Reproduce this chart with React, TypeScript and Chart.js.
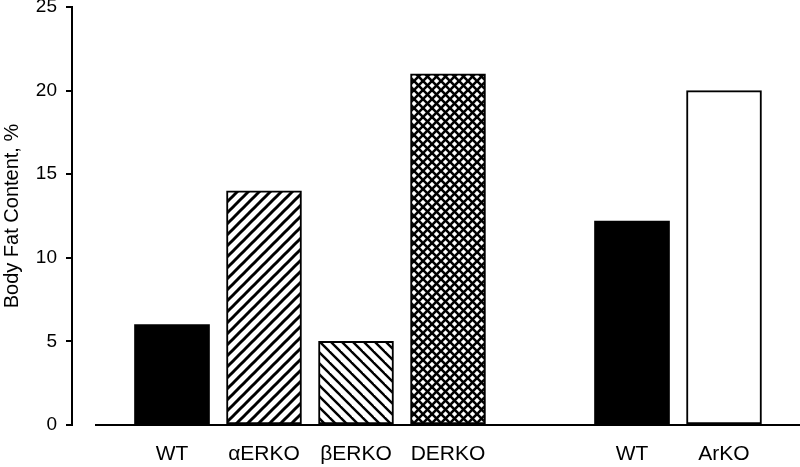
import React, { useEffect, useRef } from "react";
import { Chart, registerables } from "chart.js";

Chart.register(...registerables);

const categories = ["WT", "αERKO", "βERKO", "DERKO", "WT", "ArKO"];
const positions = [0, 1, 2, 3, 5, 6];
const bodyFat = [6.0, 14.0, 5.0, 21.0, 12.2, 20.0];
const yTicks = [0, 5, 10, 15, 20, 25];
const fills = ["solid", "hatchUp", "hatchDown", "cross", "solid", "white"];

const FONT = "'Liberation Sans', Arial, Helvetica, sans-serif";

function makePattern(kind: string): any {
  if (kind === "solid") return "#000";
  if (kind === "white") return "#fff";
  const s = kind === "cross" ? 9 : 11;
  const c = document.createElement("canvas");
  c.width = s;
  c.height = s;
  const g = c.getContext("2d")!;
  g.fillStyle = "#fff";
  g.fillRect(0, 0, s, s);
  g.strokeStyle = "#000";
  g.lineWidth = kind === "hatchDown" ? 2.4 : kind === "cross" ? 2.6 : 3;
  const up = () => {
    for (let k = 0; k <= 2; k++) {
      g.beginPath();
      g.moveTo(-2, k * s + 2);
      g.lineTo(s + 2, k * s - s - 2);
      g.stroke();
    }
  };
  const down = () => {
    for (let k = -1; k <= 1; k++) {
      g.beginPath();
      g.moveTo(-2, k * s - 2);
      g.lineTo(s + 2, k * s + s + 2);
      g.stroke();
    }
  };
  if (kind === "hatchUp") up();
  else if (kind === "hatchDown") down();
  else {
    up();
    down();
  }
  return g.createPattern(c, "repeat");
}

const baselinePlugin = {
  id: "baseline",
  afterDatasetsDraw(chart: any) {
    const { ctx, chartArea, scales } = chart;
    const y = scales.y.getPixelForValue(0);
    ctx.save();
    ctx.strokeStyle = "#000";
    ctx.lineWidth = 2;
    ctx.beginPath();
    ctx.moveTo(chartArea.left + 23, y);
    ctx.lineTo(chartArea.right, y);
    ctx.stroke();
    ctx.restore();
  },
};

export default function App() {
  const ref = useRef<HTMLCanvasElement>(null);
  useEffect(() => {
    if (!ref.current) return;
    const chart = new Chart(ref.current, {
      type: "bar",
      data: {
        datasets: [
          {
            data: positions.map((x, i) => ({ x, y: bodyFat[i] })),
            backgroundColor: fills.map(makePattern),
            borderColor: "#000",
            borderWidth: fills.map((f) => (f === "solid" ? 0 : 2)),
            borderSkipped: false,
            barThickness: 75,
          } as any,
        ],
      },
      options: {
        animation: false,
        responsive: true,
        maintainAspectRatio: false,
        layout: { padding: { top: 7, left: 0, right: 0, bottom: 0 } },
        plugins: { legend: { display: false }, tooltip: { enabled: false } },
        scales: {
          x: {
            type: "linear",
            offset: false,
            min: -1.087,
            max: 6.826,
            grid: { display: false, drawTicks: false },
            border: { display: false },
            afterBuildTicks: (s: any) => {
              s.ticks = positions.map((v) => ({ value: v }));
            },
            ticks: {
              autoSkip: false,
              maxRotation: 0,
              padding: 17,
              color: "#000",
              font: { family: FONT, size: 21 },
              callback: (v: any) => categories[positions.indexOf(Number(v))],
            },
            afterFit: (s: any) => {
              s.height = 42;
              s.paddingLeft = 0;
              s.paddingRight = 0;
            },
          } as any,
          y: {
            min: 0,
            max: 25,
            afterBuildTicks: (s: any) => {
              s.ticks = yTicks.map((v) => ({ value: v }));
            },
            ticks: {
              padding: 9,
              color: "#000",
              font: { family: FONT, size: 19 },
            },
            grid: {
              drawOnChartArea: false,
              drawTicks: true,
              tickLength: 6,
              color: "#000",
              lineWidth: 2,
            },
            border: { display: true, color: "#000", width: 2 },
            title: {
              display: true,
              text: "Body Fat Content, %",
              color: "#000",
              font: { family: FONT, size: 20 },
              padding: { top: 0, bottom: 0 },
            },
            afterFit: (s: any) => {
              s.width = 72;
              s.paddingTop = 0;
              s.paddingBottom = 0;
            },
          } as any,
        },
      },
      plugins: [baselinePlugin],
    });
    return () => chart.destroy();
  }, []);
  return (
    <div
      style={{
        position: "absolute",
        left: 0,
        top: 0,
        width: 800,
        height: 467,
        background: "#fff",
      }}
    >
      <canvas ref={ref} />
    </div>
  );
}
